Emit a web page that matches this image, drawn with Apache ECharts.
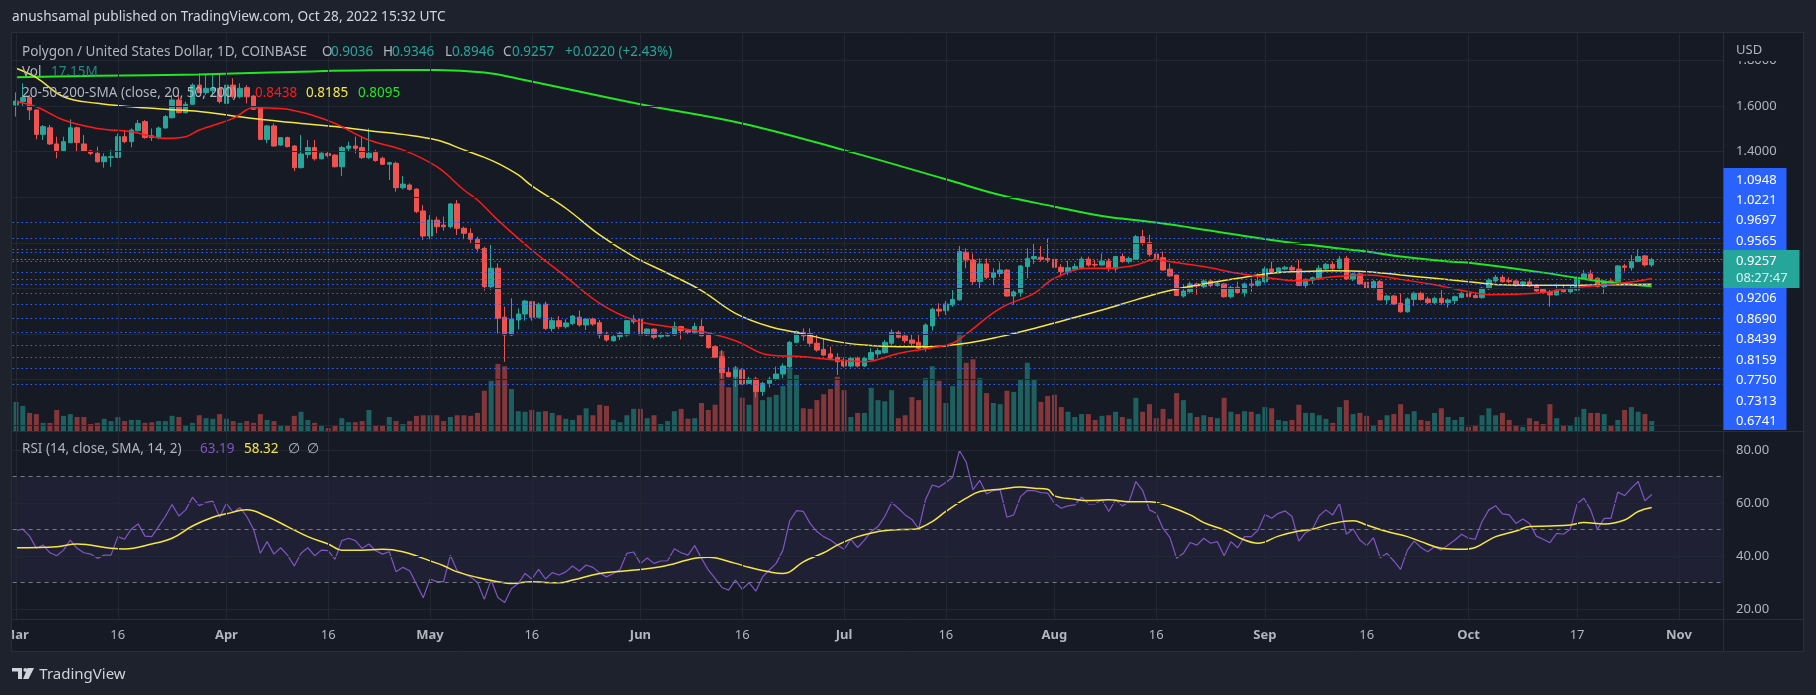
<!DOCTYPE html>
<html><head><meta charset="utf-8">
<script src="https://cdn.jsdelivr.net/npm/echarts@6/dist/echarts.min.js"></script>
<style>html,body{margin:0;padding:0;background:#1e222d;}#c{width:1816px;height:695px;}</style>
</head><body><div id="c"></div>
<script>
// ---------- DATA ----------
const tickLabels = [['2022-03-01','Mar'],['2022-03-16','16'],['2022-04-01','Apr'],['2022-04-16','16'],['2022-05-01','May'],['2022-05-16','16'],['2022-06-01','Jun'],['2022-06-16','16'],['2022-07-01','Jul'],['2022-07-16','16'],['2022-08-01','Aug'],['2022-08-16','16'],['2022-09-01','Sep'],['2022-09-16','16'],['2022-10-01','Oct'],['2022-10-17','17'],['2022-11-01','Nov']];
const monthNames = ['Mar','Apr','May','Jun','Jul','Aug','Sep','Oct','Nov'];

const opens = [1.605,1.620,1.638,1.583,1.476,1.505,1.434,1.405,1.440,1.505,
1.434,1.403,1.393,1.356,1.375,1.375,1.466,1.444,1.492,1.532,
1.470,1.462,1.504,1.549,1.627,1.571,1.608,1.692,1.659,1.668,
1.678,1.612,1.692,1.641,1.681,1.644,1.597,1.454,1.513,1.429,
1.462,1.425,1.330,1.388,1.418,1.369,1.392,1.385,1.334,1.415,
1.425,1.418,1.374,1.396,1.371,1.345,1.349,1.242,1.254,1.236,
1.140,1.030,1.100,1.078,1.071,1.171,1.064,1.042,1.016,0.976,
0.808,0.889,0.674,0.596,0.662,0.688,0.742,0.674,0.731,0.625,
0.659,0.633,0.647,0.674,0.640,0.666,0.650,0.600,0.571,0.589,
0.596,0.654,0.665,0.596,0.622,0.589,0.592,0.596,0.633,0.615,
0.606,0.633,0.596,0.545,0.501,0.432,0.413,0.443,0.384,0.403,
0.348,0.384,0.403,0.425,0.457,0.564,0.608,0.603,0.560,0.533,
0.513,0.498,0.486,0.460,0.494,0.460,0.489,0.513,0.519,0.560,
0.608,0.592,0.574,0.564,0.538,0.636,0.709,0.703,0.728,0.750,
0.959,0.925,0.830,0.908,0.849,0.866,0.881,0.767,0.782,0.896,
0.931,0.937,0.932,0.928,0.893,0.874,0.885,0.891,0.929,0.906,
0.903,0.921,0.886,0.940,0.918,0.929,1.027,1.001,0.951,0.935,
0.885,0.859,0.767,0.786,0.820,0.808,0.833,0.813,0.820,0.764,
0.805,0.782,0.820,0.814,0.830,0.886,0.869,0.885,0.893,0.885,
0.813,0.837,0.842,0.886,0.906,0.889,0.932,0.842,0.864,0.827,
0.801,0.830,0.750,0.767,0.735,0.698,0.752,0.779,0.754,0.738,
0.757,0.738,0.747,0.761,0.779,0.769,0.760,0.799,0.833,0.849,
0.835,0.833,0.813,0.829,0.815,0.796,0.785,0.772,0.796,0.785,
0.793,0.845,0.864,0.845,0.808,0.833,0.830,0.899,0.891,0.918,
0.943,0.9036];
const highs = [1.66,1.70,1.649,1.585,1.517,1.517,1.466,1.466,1.542,1.510,
1.473,1.408,1.422,1.393,1.408,1.480,1.495,1.502,1.539,1.539,
1.502,1.510,1.561,1.649,1.649,1.620,1.700,1.744,1.736,1.736,
1.744,1.707,1.722,1.700,1.692,1.649,1.597,1.517,1.524,1.463,
1.466,1.429,1.473,1.451,1.451,1.400,1.400,1.390,1.425,1.444,
1.466,1.466,1.502,1.408,1.378,1.356,1.356,1.293,1.261,1.239,
1.166,1.122,1.115,1.115,1.174,1.188,1.071,1.064,1.027,0.983,
0.991,0.910,0.720,0.757,0.713,0.750,0.745,0.738,0.742,0.674,
0.679,0.665,0.684,0.703,0.669,0.672,0.662,0.611,0.596,0.611,
0.662,0.684,0.669,0.625,0.625,0.603,0.606,0.655,0.636,0.620,
0.650,0.665,0.606,0.549,0.530,0.454,0.460,0.450,0.413,0.413,
0.391,0.413,0.457,0.472,0.570,0.615,0.625,0.625,0.596,0.581,
0.545,0.516,0.498,0.501,0.501,0.501,0.538,0.538,0.574,0.621,
0.615,0.603,0.596,0.596,0.647,0.716,0.735,0.745,0.793,0.986,
0.976,0.954,0.932,0.932,0.889,0.915,0.885,0.793,0.903,0.976,
0.995,0.986,1.019,0.947,0.907,0.922,0.910,0.940,0.940,0.925,
0.954,0.932,0.943,0.954,0.940,1.035,1.057,1.035,0.969,0.962,
0.910,0.859,0.820,0.830,0.826,0.840,0.840,0.830,0.823,0.811,
0.830,0.826,0.845,0.866,0.896,0.918,0.893,0.900,0.903,0.925,
0.845,0.852,0.903,0.913,0.918,0.943,0.943,0.869,0.869,0.830,
0.837,0.837,0.772,0.772,0.779,0.761,0.786,0.786,0.764,0.764,
0.793,0.757,0.769,0.786,0.786,0.783,0.808,0.845,0.859,0.859,
0.849,0.837,0.833,0.845,0.818,0.801,0.794,0.823,0.811,0.811,
0.852,0.881,0.881,0.849,0.837,0.845,0.903,0.908,0.947,0.969,
0.947,0.9346];
const lows = [1.554,1.597,1.539,1.454,1.451,1.429,1.371,1.400,1.437,1.400,
1.400,1.385,1.352,1.330,1.334,1.371,1.437,1.419,1.488,1.457,
1.447,1.454,1.502,1.545,1.568,1.568,1.605,1.656,1.649,1.641,
1.612,1.561,1.634,1.634,1.612,1.583,1.451,1.437,1.422,1.425,
1.419,1.315,1.327,1.371,1.361,1.366,1.375,1.331,1.293,1.400,
1.393,1.368,1.368,1.356,1.342,1.276,1.225,1.235,1.229,1.130,
1.013,1.016,1.042,1.054,1.064,1.035,1.016,0.998,0.962,0.791,
0.794,0.603,0.479,0.592,0.621,0.659,0.659,0.669,0.618,0.611,
0.621,0.625,0.640,0.633,0.618,0.636,0.581,0.567,0.567,0.574,
0.589,0.644,0.589,0.592,0.577,0.581,0.589,0.592,0.577,0.600,
0.603,0.589,0.536,0.494,0.406,0.410,0.369,0.377,0.381,0.323,
0.329,0.366,0.396,0.406,0.450,0.560,0.571,0.545,0.523,0.504,
0.486,0.421,0.454,0.454,0.454,0.457,0.486,0.501,0.513,0.552,
0.581,0.560,0.545,0.533,0.523,0.615,0.677,0.684,0.720,0.747,
0.889,0.815,0.801,0.842,0.815,0.850,0.764,0.728,0.764,0.845,
0.908,0.918,0.913,0.878,0.852,0.859,0.878,0.884,0.896,0.893,
0.900,0.874,0.874,0.913,0.910,0.925,0.988,0.940,0.925,0.878,
0.852,0.767,0.760,0.779,0.772,0.798,0.805,0.808,0.760,0.757,
0.779,0.764,0.786,0.808,0.823,0.864,0.867,0.881,0.867,0.811,
0.796,0.820,0.837,0.881,0.878,0.884,0.837,0.833,0.815,0.789,
0.796,0.747,0.731,0.728,0.694,0.694,0.723,0.747,0.732,0.732,
0.728,0.716,0.732,0.757,0.760,0.757,0.755,0.794,0.826,0.826,
0.823,0.808,0.808,0.808,0.785,0.779,0.720,0.769,0.782,0.782,
0.791,0.842,0.837,0.805,0.776,0.815,0.826,0.874,0.878,0.915,
0.896,0.8946];
const closes = [1.622,1.637,1.583,1.476,1.510,1.434,1.405,1.444,1.505,1.440,
1.403,1.393,1.356,1.378,1.378,1.466,1.444,1.495,1.524,1.462,
1.462,1.504,1.554,1.627,1.571,1.608,1.692,1.659,1.678,1.678,
1.620,1.692,1.641,1.678,1.641,1.586,1.454,1.513,1.425,1.462,
1.422,1.330,1.390,1.418,1.369,1.393,1.383,1.334,1.418,1.425,
1.415,1.374,1.393,1.361,1.345,1.352,1.242,1.258,1.235,1.137,
1.030,1.100,1.071,1.071,1.171,1.064,1.042,1.016,0.976,0.808,
0.889,0.669,0.596,0.665,0.688,0.745,0.674,0.731,0.625,0.659,
0.633,0.649,0.679,0.640,0.666,0.644,0.596,0.574,0.589,0.603,
0.659,0.665,0.596,0.622,0.586,0.596,0.600,0.633,0.615,0.608,
0.633,0.593,0.541,0.498,0.431,0.413,0.443,0.381,0.403,0.348,
0.384,0.403,0.425,0.460,0.564,0.611,0.592,0.560,0.530,0.508,
0.494,0.479,0.460,0.494,0.460,0.494,0.519,0.527,0.564,0.608,
0.586,0.571,0.560,0.538,0.640,0.709,0.701,0.732,0.752,0.962,
0.925,0.830,0.908,0.849,0.869,0.881,0.767,0.785,0.899,0.932,
0.940,0.928,0.925,0.893,0.874,0.891,0.896,0.929,0.903,0.903,
0.921,0.889,0.940,0.918,0.932,1.027,0.998,0.950,0.929,0.881,
0.855,0.769,0.789,0.820,0.811,0.833,0.813,0.823,0.764,0.805,
0.782,0.820,0.814,0.833,0.886,0.867,0.890,0.893,0.881,0.813,
0.840,0.847,0.889,0.906,0.889,0.929,0.842,0.864,0.820,0.801,
0.830,0.750,0.767,0.732,0.698,0.754,0.779,0.752,0.738,0.757,
0.738,0.750,0.764,0.779,0.764,0.760,0.801,0.837,0.849,0.830,
0.830,0.813,0.829,0.811,0.789,0.782,0.772,0.793,0.786,0.799,
0.849,0.864,0.842,0.808,0.833,0.829,0.899,0.893,0.918,0.940,
0.9036,0.9257];
const volumesM = [50,43,31,29,14,14,36,26,29,24,
24,12,14,21,17,24,17,19,19,14,
15,17,17,26,24,9,14,27,22,21,
29,21,17,14,17,14,29,19,17,10,
9,26,33,19,14,9,5,9,22,15,
15,17,36,10,10,24,17,12,17,26,
27,27,27,17,24,27,27,26,31,69,
86,115,111,72,34,33,36,33,34,31,
27,21,19,27,39,27,45,43,19,15,
27,38,38,22,27,12,17,34,38,21,
22,48,36,45,137,75,110,57,45,86,
53,58,62,77,108,96,39,38,53,63,
72,93,70,24,31,31,74,53,51,70,
22,27,58,53,91,111,86,48,77,170,
117,123,91,65,48,46,69,67,89,117,
89,50,60,62,41,33,24,29,29,19,
26,27,33,24,21,57,33,46,22,38,
21,65,53,31,24,27,24,22,57,33,
29,34,33,29,41,39,19,17,19,45,
31,31,27,21,14,41,53,29,31,26,
9,19,27,29,46,29,34,19,17,31,
39,24,19,24,7,10,27,39,27,31,
19,9,7,22,17,12,46,22,10,9,
24,38,31,31,29,10,19,36,41,33,
29,17.15];
const rsiValues = [49.6,50.1,47.5,42.9,44.1,41.2,40.1,42.2,46.0,42.9,
41.2,40.7,39.1,40.3,40.3,47.3,46.3,50.2,52.1,47.5,
47.3,51.1,54.9,59.4,55.1,57.4,62.2,59.0,60.2,60.7,
54.6,59.9,56.4,58.3,54.9,50.1,41.0,45.4,40.7,43.1,
40.3,36.2,41.0,43.1,40.1,42.2,42.0,38.7,45.8,46.7,
45.8,42.9,44.5,42.0,40.7,41.6,34.0,35.7,34.4,29.4,
24.2,31.3,30.3,30.3,40.3,34.4,33.2,32.1,30.0,23.6,
30.9,24.3,22.4,27.7,29.6,33.4,31.3,34.9,31.3,33.7,
32.8,34.0,36.2,34.3,36.6,35.7,33.6,32.1,33.4,34.9,
41.0,41.5,37.2,39.2,37.2,38.1,38.2,42.7,41.2,40.3,
43.9,39.1,34.7,31.5,28.1,27.1,30.9,27.4,29.9,26.7,
32.1,34.7,37.2,42.2,53.3,57.1,56.8,52.3,49.2,47.3,
46.0,44.1,42.5,46.3,43.2,46.0,49.2,51.1,54.9,60.2,
58.0,55.5,53.8,50.2,61.2,66.8,66.0,67.7,69.7,79.8,
75.4,65.0,68.5,63.4,64.7,65.0,54.6,55.5,62.4,64.7,
64.7,63.9,63.7,59.9,58.0,58.9,59.3,62.2,59.7,59.7,
61.2,56.8,61.2,58.9,60.5,68.1,64.7,57.4,56.1,50.4,
47.0,39.1,41.0,45.1,44.1,46.7,44.8,45.4,40.1,45.4,
43.1,47.3,47.3,49.8,55.7,54.2,56.1,57.0,54.9,45.6,
48.8,50.1,55.2,57.4,55.5,59.9,48.2,50.2,46.0,43.9,
46.9,39.3,41.0,38.1,34.9,42.2,45.6,43.2,41.6,43.5,
42.2,44.1,46.0,48.2,46.7,46.3,53.0,57.4,59.0,55.9,
55.5,52.3,54.0,52.3,47.5,46.3,45.0,48.5,48.2,50.1,
59.7,61.8,57.4,50.1,54.2,54.2,64.1,62.8,65.6,68.1,
60.8,63.19];
// moving averages, read as [day index, value] points
const sma20Pts = [[0,1.620],[3,1.597],[7,1.539],[12,1.502],[17,1.488],[22,1.459],[25,1.466],[27,1.495],[32,1.546],[35,1.593],[39,1.590],[44,1.557],[47,1.524],[52,1.451],[57,1.408],[62,1.334],[66,1.232],[68,1.188],[71,1.100],[76,0.969],[81,0.852],[86,0.735],[91,0.662],[96,0.633],[101,0.611],[106,0.571],[111,0.508],[116,0.501],[121,0.486],[125,0.479],[130,0.515],[135,0.540],[138,0.560],[140,0.600],[145,0.713],[150,0.779],[153,0.845],[158,0.889],[161,0.889],[165,0.903],[168,0.928],[170,0.918],[175,0.896],[180,0.867],[185,0.845],[189,0.833],[194,0.852],[199,0.859],[204,0.840],[209,0.816],[214,0.786],[217,0.773],[224,0.779],[229,0.801],[234,0.816],[239,0.833],[241,0.8438]];
const sma50Pts = [[0,1.766],[3,1.725],[7,1.641],[12,1.612],[17,1.597],[22,1.586],[27,1.576],[32,1.557],[37,1.539],[42,1.524],[47,1.510],[52,1.492],[57,1.476],[62,1.451],[66,1.408],[69,1.375],[71,1.349],[74,1.298],[76,1.250],[81,1.152],[86,1.035],[91,0.940],[96,0.867],[101,0.791],[106,0.691],[111,0.633],[116,0.601],[121,0.567],[125,0.552],[130,0.545],[135,0.545],[140,0.560],[145,0.589],[150,0.625],[155,0.665],[160,0.706],[165,0.750],[170,0.791],[175,0.820],[180,0.845],[185,0.867],[189,0.874],[194,0.878],[199,0.874],[204,0.859],[209,0.845],[214,0.830],[219,0.816],[224,0.814],[229,0.814],[234,0.816],[241,0.8185]];
const sma200Pts = [[0,1.726],[12,1.733],[27,1.739],[42,1.751],[52,1.757],[62,1.758],[69,1.747],[74,1.720],[92,1.608],[107,1.524],[122,1.407],[137,1.279],[145,1.210],[153,1.159],[160,1.118],[168,1.089],[177,1.049],[185,1.013],[194,0.979],[199,0.962],[204,0.940],[211,0.918],[214,0.913],[224,0.874],[231,0.842],[236,0.823],[241,0.8095]];
const rsiMaPts = [[0,43.1],[6,43.5],[9,44.5],[14,42.9],[16,42.6],[20,44.5],[23,46.7],[26,51.3],[29,54.6],[31,55.9],[34,57.4],[37,54.9],[40,51.1],[43,47.3],[46,44.5],[48,42.2],[51,42.2],[54,42.5],[57,41.6],[60,39.1],[63,36.3],[65,34.0],[68,31.9],[71,30.3],[73,29.6],[76,30.3],[78,30.0],[80,29.9],[82,30.9],[86,33.4],[90,34.4],[95,35.9],[100,39.1],[102,39.5],[106,37.2],[108,35.7],[111,34.0],[113,33.4],[114,34.0],[116,37.8],[119,41.2],[121,44.1],[124,47.3],[127,49.2],[129,49.8],[132,50.1],[133,50.4],[135,53.0],[137,56.8],[140,61.8],[142,64.3],[145,65.2],[148,66.0],[150,65.6],[152,65.2],[153,62.7],[156,61.4],[158,60.9],[161,61.2],[164,60.5],[167,60.5],[170,58.6],[173,55.5],[175,52.6],[178,49.8],[181,46.0],[183,44.8],[186,47.5],[189,49.4],[191,50.1],[194,52.3],[197,53.3],[199,51.7],[202,49.2],[205,47.3],[207,45.4],[210,42.9],[213,42.5],[215,43.2],[218,47.3],[221,49.4],[223,51.1],[226,51.3],[229,51.7],[231,52.6],[234,52.1],[237,53.6],[239,56.8],[241,58.32]];
const priceLines = [1.0948,1.0221,0.9697,0.9565,0.9206,0.8690,0.8439,0.8159,0.7750,0.7313,0.6741,0.6078,0.5464,0.4981,0.4499,0.3841];
const priceLineLabels = ['1.0948','1.0221','0.9697','0.9565','0.9206','0.8690','0.8439','0.8159','0.7750','0.7313','0.6741'];
const lastPrice = 0.9257;
const priceGridValues = [0.2,0.4,0.6,0.8,1.0,1.2,1.4,1.6,1.8];
const priceAxisTicks = [1.4,1.6,1.8];
const rsiGridValues = [20,40,60,80];
const rsiLevels = [30,50,70];

// ---------- categories (calendar days) ----------
const categories = [];
for (let k = 0; k < 252; k++) { const d = new Date(Date.UTC(2022, 2, 1 + k)); categories.push(d.toISOString().slice(0, 10)); }
const tickMap = {}; tickLabels.forEach(t => { tickMap[t[0]] = t[1]; });

const UP = '#26a69a', DOWN = '#ef5350';
const FONT = '"Noto Sans", sans-serif';
const candleData = opens.map((o, k) => [o, closes[k], lows[k], highs[k]]);
const volData = volumesM.map((v, k) => ({ value: v, itemStyle: { color: closes[k] >= opens[k] ? 'rgba(38,166,154,0.5)' : 'rgba(239,83,80,0.5)' } }));
const nulls = categories.map(() => null);
const GRIDC = '#232733';
const vLines = tickLabels.map(t => ({ xAxis: t[0] }));

function T(x, y, s, color, size, extra) {
  return { type: 'text', x: x, y: y, z: 200, silent: true,
    style: Object.assign({ text: s, fill: color, font: size + 'px ' + FONT, verticalAlign: 'middle', align: 'left' }, extra || {}) };
}
function R(x, y, w, h, fill, z) { return { type: 'rect', z: z || 150, silent: true, shape: { x: x, y: y, width: w, height: h }, style: { fill: fill } }; }
function L(x1, y1, x2, y2, c, z) { return { type: 'line', z: z || 160, silent: true, shape: { x1: x1, y1: y1, x2: x2, y2: y2 }, style: { stroke: c, lineWidth: 1 } }; }

const OUT = '#1e222d', BORDER = '#2a2e39', GRAY = '#b2b5be';
const graphics = [
  // outer background strips
  R(0, 0, 1816, 32, OUT, 150), R(0, 652, 1816, 43, OUT, 150), R(0, 0, 11, 695, OUT, 150), R(1804, 0, 12, 695, OUT, 150),
  // frame & separators
  L(11, 32.5, 1803.5, 32.5, BORDER), L(11, 651.5, 1803.5, 651.5, BORDER), L(11.5, 32, 11.5, 652, BORDER), L(1803.5, 32, 1803.5, 652, BORDER),
  L(1723.5, 32, 1723.5, 652, BORDER), L(11, 431.5, 1803.5, 431.5, BORDER), L(11, 619.5, 1803.5, 619.5, BORDER),
  // header
  T(12, 17.5, 'anushsamal published on TradingView.com, Oct 28, 2022 15:32 UTC', '#d1d4dc', 13.7),
  // legend line 1
  T(22, 52, 'Polygon / United States Dollar, 1D, COINBASE', GRAY, 13.5),
  T(322, 52, 'O', GRAY, 13.5), T(331, 52, '0.9036', UP, 13.5),
  T(383, 52, 'H', GRAY, 13.5), T(392, 52, '0.9346', UP, 13.5),
  T(445, 52, 'L', GRAY, 13.5), T(452, 52, '0.8946', UP, 13.5),
  T(503, 52, 'C', GRAY, 13.5), T(512, 52, '0.9257', UP, 13.5),
  T(565, 52, '+0.0220 (+2.43%)', UP, 13.5),
  // legend line 2/3
  T(22, 72, 'Vol', GRAY, 13.5), T(51, 72, '17.15M', '#1f8a80', 13.5),
  T(22, 93.5, '20-50-200-SMA (close, 20, 50, 200)', GRAY, 13.5),
  T(255, 93.5, '0.8438', '#ff1a1a', 13.5), T(306, 93.5, '0.8185', '#f5e642', 13.5), T(358, 93.5, '0.8095', '#22e622', 13.5),
  // RSI legend
  T(22, 449, 'RSI (14, close, SMA, 14, 2)', GRAY, 13.5), T(200, 449, '63.19', '#7e57c2', 13.5), T(244, 449, '58.32', '#f5e642', 13.5),
  T(288, 449, '\u2205', GRAY, 13.5), T(307, 449, '\u2205', GRAY, 13.5),
  // price axis: USD + covering box
  R(1724, 33, 79, 28, '#161a25', 150), T(1736, 50, 'USD', GRAY, 13),
  // blue label column
  R(1723.5, 168, 63, 262, '#2962ff', 170),
  // last price box
  R(1723.5, 250, 76, 38, '#26a69a', 175),
  T(1736, 261, '0.9257', '#ffffff', 13), T(1736, 278, '08:27:47', '#d8f3f0', 13),
  // TradingView logo
  { type: 'polygon', z: 200, silent: true, shape: { points: [[12, 668], [22, 668], [22, 679], [18, 679], [18, 671.5], [12, 671.5]] }, style: { fill: '#d1d4dc' } },
  { type: 'circle', z: 200, silent: true, shape: { cx: 25.3, cy: 669.9, r: 1.9 }, style: { fill: '#d1d4dc' } },
  { type: 'polygon', z: 200, silent: true, shape: { points: [[27.5, 668], [34, 668], [28.5, 679], [23, 679]] }, style: { fill: '#d1d4dc' } },
  T(39.3, 674.5, 'TradingView', '#d1d4dc', 15)
];
const labelYs = [180, 200.5, 220.7, 240.8, 298.3, 319, 339.3, 360, 380.5, 401, 421.3];
priceLineLabels.forEach((s, k) => graphics.push(Object.assign(T(1736, labelYs[k], s, '#ffffff', 13), { z: 190 })));

const catAxis = (gi, showLabel) => ({
  type: 'category', gridIndex: gi, data: categories, boundaryGap: true,
  axisLine: { show: false }, axisTick: { show: false }, splitLine: { show: false },
  axisLabel: showLabel ? {
    show: true, margin: 10, fontSize: 13, color: GRAY, fontFamily: FONT,
    interval: (idx, val) => tickMap[val] !== undefined,
    formatter: (val) => { const s = tickMap[val] || ''; return monthNames.indexOf(s) >= 0 ? '{m|' + s + '}' : s; },
    rich: { m: { fontWeight: 'bold', fontSize: 13, color: GRAY, fontFamily: FONT } }
  } : { show: false }
});

const option = {
  backgroundColor: '#161a25',
  animation: false,
  grid: [
    { left: 12.6, right: 93, top: 32, height: 399 },
    { left: 12.6, right: 93, top: 331, height: 100 },
    { left: 12.6, right: 93, top: 432, height: 187 }
  ],
  xAxis: [catAxis(0, false), catAxis(1, false), catAxis(2, true)],
  yAxis: [
    { type: 'value', gridIndex: 0, position: 'right', min: 0.175, max: 1.925, scale: true,
      axisLine: { show: false }, axisTick: { show: false }, splitLine: { show: false },
      axisLabel: { customValues: priceAxisTicks, margin: 13, color: GRAY, fontSize: 13, fontFamily: FONT, formatter: v => v.toFixed(4) } },
    { type: 'value', gridIndex: 1, min: 0, max: 171.5, show: false },
    { type: 'value', gridIndex: 2, position: 'right', min: 16.2, max: 86.8,
      axisLine: { show: false }, axisTick: { show: false }, splitLine: { show: false },
      axisLabel: { customValues: rsiGridValues, margin: 13, color: GRAY, fontSize: 13, fontFamily: FONT, formatter: v => v.toFixed(2) } }
  ],
  graphic: graphics,
  series: [
    { type: 'line', xAxisIndex: 0, yAxisIndex: 0, data: nulls, z: 0, silent: true, symbol: 'none',
      markLine: { silent: true, symbol: ['none', 'none'], label: { show: false }, lineStyle: { color: GRIDC, width: 1, type: 'solid' },
        data: vLines.concat(priceGridValues.map(v => ({ yAxis: v }))) } },
    { type: 'bar', xAxisIndex: 1, yAxisIndex: 1, data: volData, barWidth: 5, z: 1, silent: true },
    { type: 'candlestick', xAxisIndex: 0, yAxisIndex: 0, data: candleData, barWidth: 5, z: 2, silent: true,
      itemStyle: { color: UP, color0: DOWN, borderColor: UP, borderColor0: DOWN, borderWidth: 1 } },
    { type: 'line', xAxisIndex: 0, yAxisIndex: 0, data: sma200Pts, z: 3, symbol: 'none', smooth: 0.4, silent: true, lineStyle: { color: '#22e622', width: 2 } },
    { type: 'line', xAxisIndex: 0, yAxisIndex: 0, data: sma50Pts, z: 3, symbol: 'none', smooth: 0.4, silent: true, lineStyle: { color: '#f5e642', width: 1.5 } },
    { type: 'line', xAxisIndex: 0, yAxisIndex: 0, data: sma20Pts, z: 3, symbol: 'none', smooth: 0.4, silent: true, lineStyle: { color: '#ff1a1a', width: 1.5 } },
    { type: 'line', xAxisIndex: 0, yAxisIndex: 0, data: nulls, z: 4, silent: true, symbol: 'none',
      markLine: { silent: true, symbol: ['none', 'none'], label: { show: false }, lineStyle: { color: '#2f66ff', width: 1.2, type: [1.5, 3] },
        data: priceLines.map(v => ({ yAxis: v })).concat([{ yAxis: lastPrice, lineStyle: { color: '#26a69a', width: 1.2, type: [1.5, 2.5] } }]) } },
    // RSI pane
    { type: 'line', xAxisIndex: 2, yAxisIndex: 2, data: nulls, z: 0, silent: true, symbol: 'none',
      markArea: { silent: true, itemStyle: { color: 'rgba(126,87,194,0.1)' }, data: [[{ yAxis: 30 }, { yAxis: 70 }]] },
      markLine: { silent: true, symbol: ['none', 'none'], label: { show: false }, lineStyle: { color: GRIDC, width: 1, type: 'solid' },
        data: vLines.concat(rsiGridValues.map(v => ({ yAxis: v }))) } },
    { type: 'line', xAxisIndex: 2, yAxisIndex: 2, data: nulls, z: 1, silent: true, symbol: 'none',
      markLine: { silent: true, symbol: ['none', 'none'], label: { show: false }, lineStyle: { color: '#787b86', width: 1, type: [4, 4] },
        data: rsiLevels.map(v => ({ yAxis: v })) } },
    { type: 'line', xAxisIndex: 2, yAxisIndex: 2, data: rsiValues, z: 3, symbol: 'none', silent: true, lineStyle: { color: '#7e57c2', width: 1.2 } },
    { type: 'line', xAxisIndex: 2, yAxisIndex: 2, data: rsiMaPts, z: 3, symbol: 'none', smooth: 0.4, silent: true, lineStyle: { color: '#f5e642', width: 1.5 } }
  ]
};
const chart = echarts.init(document.getElementById('c'), null, { renderer: 'canvas', width: 1816, height: 695 });
chart.setOption(option);
</script></body></html>
